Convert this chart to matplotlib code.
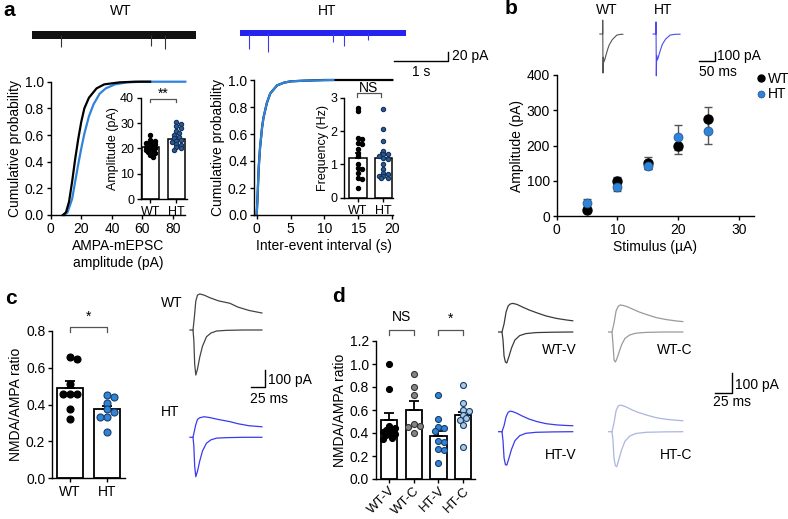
import numpy as np
import matplotlib
matplotlib.use("Agg")
import matplotlib.pyplot as plt
from matplotlib.lines import Line2D

plt.rcParams["font.family"] = ["Liberation Sans", "DejaVu Sans"]
plt.rcParams["font.size"] = 10
plt.rcParams["axes.linewidth"] = 1.0

# ==========================================================
# DATA
# ==========================================================
# --- a: mEPSC traces (s, pA) ---
mini_wt_len = 3.05
mini_wt_noise = 8.5
mini_wt_ev_t = [0.54, 2.21, 2.47]
mini_wt_ev_a = [-25, -24, -30]
mini_ht_len = 3.07
mini_ht_noise = 6.5
mini_ht_ev_t = [0.17, 0.52, 1.72, 1.93, 2.37]
mini_ht_ev_a = [-34, -41, -19, -28, -15]

# --- a: cumulative amplitude ---
amp_wt_x = [8, 10, 12, 14, 16, 18, 20, 22, 25, 30, 35, 45, 55, 65]
amp_wt_y = [0.0, 0.02, 0.1, 0.25, 0.42, 0.57, 0.7, 0.8, 0.88, 0.95, 0.98, 0.995, 1.0, 1.0]
amp_ht_x = [9, 11, 14, 16, 18, 20, 22, 25, 28, 32, 36, 42, 50, 60, 88]
amp_ht_y = [0.0, 0.02, 0.12, 0.25, 0.38, 0.5, 0.61, 0.74, 0.83, 0.91, 0.95, 0.98, 0.995, 1.0, 1.0]

amp_means = [20.5, 23.7]
amp_sems = [0.6, 0.8]
amp_wt = [25.5, 23.5, 22.8, 22.3, 22.0, 21.6, 21.2, 21.0, 20.7, 20.3, 20.0,
          19.6, 19.2, 18.8, 18.3, 17.5, 16.5]
amp_ht = [30.5, 29.8, 28.8, 28.0, 27.0, 26.0, 25.2, 24.5, 24.0, 23.5, 23.0,
          22.4, 21.8, 21.2, 20.5, 20.0, 19.5]

# --- a: cumulative inter-event interval ---
iei_wt_x = [0, 0.1, 0.3, 0.5, 0.8, 1.0, 1.5, 2, 3, 4, 5, 7, 10, 20]
iei_wt_y = [0.0, 0.1, 0.35, 0.5, 0.65, 0.72, 0.83, 0.9, 0.96, 0.98, 0.99, 0.995, 1.0, 1.0]
iei_ht_x = [0, 0.1, 0.3, 0.5, 0.8, 1.0, 1.5, 2, 3, 4, 5, 7, 11.3]
iei_ht_y = [0.0, 0.1, 0.35, 0.5, 0.65, 0.72, 0.83, 0.9, 0.96, 0.98, 0.99, 0.995, 1.0]

freq_means = [1.18, 1.2]
freq_sems = [0.17, 0.13]
freq_wt = [2.7, 2.6, 1.8, 1.75, 1.65, 1.6, 1.45, 1.35, 1.25, 1.0, 0.9, 0.85,
           0.75, 0.6, 0.55, 0.3]
freq_ht = [2.65, 2.05, 1.7, 1.4, 1.3, 1.3, 1.25, 1.2, 1.15, 1.0, 0.85, 0.75,
           0.7, 0.65, 0.65, 0.6, 0.6]

# --- b: input-output ---
stim = [5, 10, 15, 20, 25]
io_wt = [18, 98, 150, 200, 275]
io_wt_err = [6, 14, 16, 23, 33]
io_ht = [37, 82, 142, 223, 242]
io_ht_err = [11, 12, 8, 35, 37]

b_wt_t = [-9, 0, 0, 1, 2, 4, 7, 10, 15, 20, 30, 44, 55, 63]
b_wt_i = [0, 0, 150, -420, -250, -300, -270, -230, -170, -120, -60, -12, -4, -3]
b_ht_t = [-9, 0, 0, 1, 2, 4, 7, 10, 15, 20, 30, 44, 60, 75]
b_ht_i = [0, 0, 130, -450, -230, -280, -255, -215, -160, -110, -55, -12, -3, -2]

# --- c: NMDA/AMPA ---
c_groups = ["WT", "HT"]
c_means = [0.49, 0.375]
c_sems = [0.04, 0.018]
c_wt = [0.66, 0.65, 0.51, 0.46, 0.46, 0.46, 0.375, 0.32]
c_ht = [0.455, 0.44, 0.41, 0.375, 0.36, 0.335, 0.335, 0.25]

c_up_t = [0, 2, 5, 8, 12, 20, 30, 45, 66, 80, 100, 123]
c_wt_up = [0, 60, 170, 205, 212, 205, 190, 172, 157, 135, 115, 100]
c_ht_up = [0, 30, 75, 105, 115, 121, 116, 105, 92, 80, 68, 62]
c_dn_t = [-5.4, 0, 1.5, 3, 5, 8, 12, 17, 24, 32, 42, 60, 90, 123]
c_wt_dn = [0, 0, -60, -200, -265, -230, -160, -95, -40, -18, -6, -2, 0, 0]
c_ht_dn = [0, 0, -50, -170, -232, -200, -140, -80, -35, -15, -5, -2, 0, 0]

# --- d: NMDA/AMPA, vehicle / compound ---
d_groups = ["WT-V", "WT-C", "HT-V", "HT-C"]
d_means = [0.51, 0.60, 0.37, 0.56]
d_sems = [0.06, 0.08, 0.05, 0.02]
d_wtv = [1.0, 0.78, 0.46, 0.44, 0.43, 0.42, 0.41, 0.40, 0.39, 0.38, 0.36, 0.35]
d_wtc = [0.91, 0.80, 0.73, 0.475, 0.46, 0.45, 0.40]
d_htv = [0.73, 0.52, 0.45, 0.44, 0.42, 0.33, 0.32, 0.26, 0.25, 0.14]
d_htc = [0.82, 0.665, 0.60, 0.59, 0.56, 0.53, 0.51, 0.47, 0.275]

d_up_t = [0, 3, 6, 9, 12, 16, 22, 30, 40, 52, 65, 80, 95, 104]
d_wtv_up = [0, 40, 100, 130, 140, 143, 138, 125, 110, 95, 80, 68, 60, 56]
d_wtc_up = [0, 45, 105, 128, 135, 133, 127, 115, 100, 86, 72, 62, 55, 52]
d_htv_up = [0, 30, 75, 97, 103, 100, 92, 78, 63, 50, 40, 34, 31, 30]
d_htc_up = [0, 45, 105, 128, 133, 130, 122, 108, 95, 82, 70, 62, 57, 55]
d_dn_t = [-5, 0, 1.5, 3, 5, 7, 10, 14, 19, 26, 35, 50, 75, 104]
d_wtv_dn = [0, 0, -40, -120, -150, -155, -125, -80, -40, -18, -8, -3, -1, 0]
d_wtc_dn = [0, 0, -60, -140, -150, -135, -105, -65, -32, -15, -6, -2, 0, 0]
d_htv_dn = [0, 0, -45, -130, -165, -167, -135, -88, -45, -20, -8, -3, -1, 0]
d_htc_dn = [0, 0, -45, -135, -170, -175, -140, -92, -48, -22, -9, -3, -1, 0]

# ==========================================================
# COLOURS
# ==========================================================
BLUE = "#2f84da"
TRACE_BLUE = "#3a3aee"
DARK_EDGE = "#1b3d66"

# ==========================================================
# HELPERS
# ==========================================================
W, H = 788, 519
fig = plt.figure(figsize=(W / 100, H / 100), dpi=100)


def box(x0, y0, x1, y1):
    """axes from pixel box (top-left origin)"""
    return fig.add_axes([x0 / W, 1 - y1 / H, (x1 - x0) / W, (y1 - y0) / H])


def ftext(x, y, s, **kw):
    fig.text(x / W, 1 - y / H, s, **kw)


def style(ax, fs=10):
    for s in ["top", "right"]:
        ax.spines[s].set_visible(False)
    ax.tick_params(direction="out", length=3, width=1, labelsize=fs, pad=2)
    ax.patch.set_alpha(0)


def trace_box(x_zero, y_zero, sx, sy, t0, t1, i0, i1):
    ax = box(x_zero + t0 * sx, y_zero - i1 * sy, x_zero + t1 * sx, y_zero - i0 * sy)
    ax.set_xlim(t0, t1)
    ax.set_ylim(i0, i1)
    ax.axis("off")
    return ax


def swarm(vals, ppu_y, ppu_x, d, kmax=3):
    """simple deterministic column scatter, x offsets in data units"""
    placed, xs = [], []
    order = [0]
    for k in range(1, kmax + 1):
        order += [k, -k]
    for v in vals:
        y = v * ppu_y
        best, best_gap = 0, -1
        for k in order:
            x = k * d * 0.5
            gap = min([np.hypot(x - px, y - py) for px, py in placed] or [99])
            if gap >= 0.7 * d:
                best = x
                break
            if gap > best_gap:
                best, best_gap = x, gap
        placed.append((best, y))
        xs.append(best / ppu_x)
    return np.array(xs)


def bars(ax, means, sems, groups, width, ppu_y, ppu_x, d, lw=1.3, kmax=3):
    pos = np.arange(len(means))
    ax.bar(pos, means, width=width, color="white", edgecolor="black", lw=lw, zorder=1)
    ax.errorbar(pos, means, yerr=[np.zeros(len(means)), sems], fmt="none",
                ecolor="black", elinewidth=lw, capsize=d * 0.55, capthick=lw, zorder=2)
    for p, (vals, fc, ec) in zip(pos, groups):
        xs = swarm(vals, ppu_y, ppu_x, d, kmax)
        ax.scatter(p + xs, vals, s=(d * 0.72) ** 2, color=fc, edgecolors=ec,
                   linewidths=0.8, zorder=3, clip_on=False)
    ax.set_xticks(pos)


def bracket(ax, x0, x1, y, h, txt, ty, fs=10):
    ax.plot([x0, x0, x1, x1], [y - h, y, y, y - h], color="#555555", lw=0.9, clip_on=False)
    ax.text((x0 + x1) / 2, ty, txt, ha="center", va="center", fontsize=fs)


def scalebar(x_corner, y_corner, sx, sy, tlen, ilen):
    ax = trace_box(x_corner, y_corner, sx, sy, -tlen * 0.1, tlen * 1.1, -ilen * 0.3, ilen * 1.2)
    ax.plot([0, tlen, tlen], [0, 0, ilen], color="black", lw=1.0, clip_on=False)
    return ax


# ==========================================================
# PANEL a
# ==========================================================
ftext(3, 10, "a", fontsize=15, fontweight="bold", va="center")
ftext(121, 11, "WT", ha="center", va="center")
ftext(327, 11, "HT", ha="center", va="center")

sx_m, sy_m = 54.0, 0.465
ax = trace_box(31.7, 35, sx_m, sy_m, 0, mini_wt_len, -45, 25)
ax.fill_between([0, mini_wt_len], -mini_wt_noise, mini_wt_noise, color="#111111", lw=0)
ax.vlines(mini_wt_ev_t, 0, mini_wt_ev_a, color="#333333", lw=0.8)
ax = trace_box(240, 33, sx_m, sy_m, 0, mini_ht_len, -45, 25)
ax.fill_between([0, mini_ht_len], -mini_ht_noise, mini_ht_noise, color="#2424ee", lw=0)
ax.vlines(mini_ht_ev_t, 0, mini_ht_ev_a, color="#3a3aee", lw=0.8)

scalebar(394, 61, sx_m, sy_m, 1.0, 20)
ftext(452, 56, "20 pA", va="center")
ftext(421, 72, "1 s", ha="center", va="center")

# cumulative amplitude
ax = box(50.7, 81.7, 185.3, 215)
style(ax)
ax.plot(amp_ht_x, amp_ht_y, color=BLUE, lw=1.6, clip_on=False)
ax.plot(amp_wt_x, amp_wt_y, color="black", lw=1.6, clip_on=False)
ax.set_xlim(0, 88)
ax.set_ylim(0, 1.0)
ax.set_xticks([0, 20, 40, 60, 80])
ax.set_yticks(np.arange(0, 1.01, 0.2))
ax.set_yticklabels([f"{v:.1f}" for v in np.arange(0, 1.01, 0.2)])
ax.set_ylabel("Cumulative probability", labelpad=2)
ax.set_xlabel("AMPA-mEPSC\namplitude (pA)", labelpad=2, linespacing=1.3)

ax = box(141, 97.7, 187, 199.3)
style(ax, 9)
bars(ax, amp_means, amp_sems, [(amp_wt, "black", "black"), (amp_ht, "#2a5a92", "#16325a")],
     0.68, 2.54, 26, 4.3, lw=1.1, kmax=2)
ax.set_xlim(-0.365, 1.41)
ax.set_ylim(0, 40)
ax.set_yticks([0, 10, 20, 30, 40])
ax.set_xticklabels(["WT", "HT"])
ax.set_ylabel("Amplitude (pA)", fontsize=9, labelpad=1)
bracket(ax, 0, 1, 39.5, 1.3, "**", 41.5)

# cumulative inter-event interval
ax = box(254.3, 80, 393, 215)
style(ax)
ax.plot(iei_wt_x, iei_wt_y, color="black", lw=1.6, clip_on=False)
ax.plot(iei_ht_x, iei_ht_y, color=BLUE, lw=1.6, clip_on=False)
ax.set_xlim(-0.35, 20.1)
ax.set_ylim(0, 1.0)
ax.set_xticks([0, 5, 10, 15, 20])
ax.set_yticks(np.arange(0, 1.01, 0.2))
ax.set_yticklabels([f"{v:.1f}" for v in np.arange(0, 1.01, 0.2)])
ax.set_ylabel("Cumulative probability", labelpad=2)
ax.set_xlabel("Inter-event interval (s)", labelpad=2)

ax = box(344.3, 97.7, 393, 197.7)
style(ax, 9)
bars(ax, freq_means, freq_sems, [(freq_wt, "black", "black"), (freq_ht, "#2a5a92", "#16325a")],
     0.69, 33.3, 25.6, 4.3, lw=1.1, kmax=2)
ax.set_xlim(-0.53, 1.375)
ax.set_ylim(0, 3)
ax.set_yticks([0, 1, 2, 3])
ax.set_xticklabels(["WT", "HT"])
ax.set_ylabel("Frequency (Hz)", fontsize=9, labelpad=1)
bracket(ax, -0.05, 0.9, 3.13, 0.1, "NS", 3.28)

# ==========================================================
# PANEL b
# ==========================================================
ftext(505, 9, "b", fontsize=15, fontweight="bold", va="center")
ftext(607, 10, "WT", ha="center", va="center")
ftext(663, 10, "HT", ha="center", va="center")

sx_b, sy_b = 0.32, 0.093
ax = trace_box(602.7, 34, sx_b, sy_b, -10, 80, -460, 160)
ax.plot(b_wt_t, b_wt_i, color="#555555", lw=0.8, clip_on=False)
ax = trace_box(656, 34, sx_b, sy_b, -10, 80, -460, 160)
ax.plot(b_ht_t, b_ht_i, color="#4a4af0", lw=0.8, clip_on=False)
scalebar(699, 61, sx_b, sy_b, 50, 100)
ftext(717, 56, "100 pA", va="center")
ftext(699, 72, "50 ms", va="center")

ax = box(556.7, 75, 754, 216)
style(ax)
ax.errorbar(stim, io_wt, yerr=io_wt_err, fmt="none", ecolor="#555555", elinewidth=1,
            capsize=3, zorder=1)
ax.errorbar(stim, io_ht, yerr=io_ht_err, fmt="none", ecolor="#555555", elinewidth=1,
            capsize=3, zorder=1)
ax.scatter(stim, io_wt, s=42, color="black", zorder=2)
ax.scatter(stim, io_ht, s=42, color=BLUE, edgecolors="#1d4f88", linewidths=0.5, zorder=3)
ax.set_xlim(0, 32.5)
ax.set_ylim(0, 400)
ax.set_xticks([0, 10, 20, 30])
ax.set_yticks([0, 100, 200, 300, 400])
ax.set_xlabel("Stimulus (\u00b5A)", labelpad=2)
ax.set_ylabel("Amplitude (pA)", labelpad=2)
handles = [Line2D([], [], ls="none", marker="o", ms=5, color="black"),
           Line2D([], [], ls="none", marker="o", ms=5, color=BLUE, mec="#1d4f88", mew=0.5)]
fig.legend(handles, ["WT", "HT"], loc="upper left", bbox_to_anchor=(758 / W, 1 - 72 / H),
           frameon=False, handlelength=0.4, handletextpad=0.3, labelspacing=0.1,
           borderpad=0, borderaxespad=0)

# ==========================================================
# PANEL c
# ==========================================================
ftext(5, 298, "c", fontsize=15, fontweight="bold", va="center")

ax = box(52.3, 331, 125, 478.3)
style(ax)
bars(ax, c_means, c_sems, [(c_wt, "black", "black"), (c_ht, BLUE, DARK_EDGE)],
     0.70, 184, 37, 7)
ax.set_xlim(-0.48, 1.49)
ax.set_ylim(0, 0.8)
ax.set_yticks(np.arange(0, 0.81, 0.2))
ax.set_yticklabels([f"{v:.1f}" for v in np.arange(0, 0.81, 0.2)])
ax.set_xticklabels(c_groups)
ax.set_ylabel("NMDA/AMPA ratio", labelpad=2)
bracket(ax, 0, 1, 0.824, 0.03, "*", 0.875)

sx_c, sy_c = 0.56, 0.17
ftext(172, 303, "WT", ha="center", va="center")
ftext(170, 412, "HT", ha="center", va="center")
ax = trace_box(193, 330, sx_c, sy_c, -8, 125, -280, 230)
ax.plot(c_up_t, c_wt_up, color="#444444", lw=0.9, clip_on=False)
ax.plot(c_dn_t, c_wt_dn, color="#444444", lw=0.9, clip_on=False)
ax = trace_box(193, 437.3, sx_c, sy_c, -8, 125, -280, 230)
ax.plot(c_up_t, c_ht_up, color=TRACE_BLUE, lw=0.9, clip_on=False)
ax.plot(c_dn_t, c_ht_dn, color=TRACE_BLUE, lw=0.9, clip_on=False)
scalebar(251, 387, sx_c, sy_c, 25, 100)
ftext(268, 380, "100 pA", va="center")
ftext(250, 399, "25 ms", va="center")

# ==========================================================
# PANEL d
# ==========================================================
ftext(332, 297, "d", fontsize=15, fontweight="bold", va="center")

ax = box(376, 341, 475, 479)
style(ax)
bars(ax, d_means, d_sems,
     [(d_wtv, "black", "black"), (d_wtc, "#858585", "#333333"),
      (d_htv, BLUE, DARK_EDGE), (d_htc, "#a9c9ea", DARK_EDGE)],
     0.67, 114, 24.7, 6, kmax=2)
ax.set_xlim(-0.53, 3.48)
ax.set_ylim(0, 1.2)
ax.set_yticks(np.arange(0, 1.21, 0.2))
ax.set_yticklabels([f"{v:.1f}" for v in np.arange(0, 1.21, 0.2)])
ax.set_xticklabels(d_groups, rotation=45, ha="right", rotation_mode="anchor", fontsize=9.5)
ax.tick_params(axis="x", pad=1)
ax.set_ylabel("NMDA/AMPA ratio", labelpad=2)
bracket(ax, 0, 1, 1.30, 0.05, "NS", 1.41)
bracket(ax, 2, 3, 1.30, 0.05, "*", 1.39)

sx_d, sy_d = 0.68, 0.2
d_traces = [
    (502, 332, d_wtv_up, d_wtv_dn, "#3a3a3a"),
    (612, 332, d_wtc_up, d_wtc_dn, "#9a9a9a"),
    (502, 431.7, d_htv_up, d_htv_dn, TRACE_BLUE),
    (612, 431.7, d_htc_up, d_htc_dn, "#aab6de"),
]
for x0, y0, up, dn, col in d_traces:
    ax = trace_box(x0, y0, sx_d, sy_d, -8, 106, -180, 150)
    ax.plot(d_up_t, up, color=col, lw=0.9, clip_on=False)
    ax.plot(d_dn_t, dn, color=col, lw=0.9, clip_on=False)
ftext(577, 350, "WT-V", ha="right", va="center")
ftext(692, 350, "WT-C", ha="right", va="center")
ftext(577, 455, "HT-V", ha="right", va="center")
ftext(692, 455, "HT-C", ha="right", va="center")
scalebar(715, 393, sx_d, sy_d, 25, 100)
ftext(735, 385, "100 pA", va="center")
ftext(713, 402, "25 ms", va="center")

fig.savefig("out.png", dpi=100)
